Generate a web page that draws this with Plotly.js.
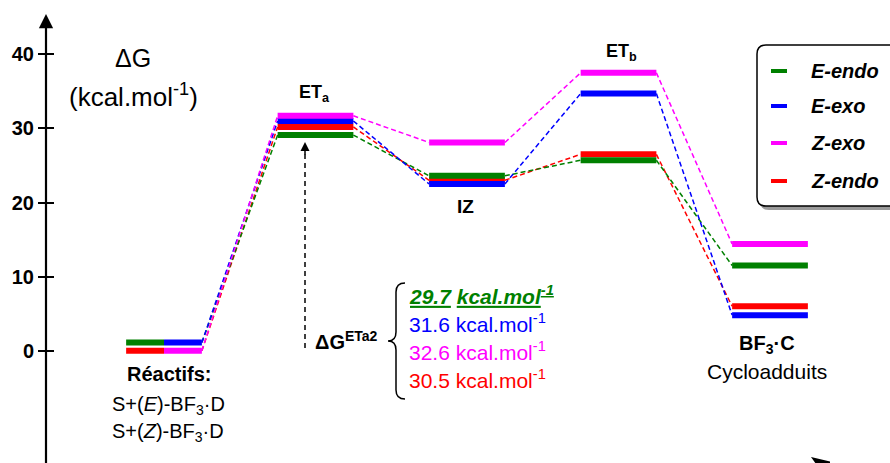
<!DOCTYPE html>
<html>
<head>
<meta charset="utf-8">
<script src="https://cdn.plot.ly/plotly-3.0.1.min.js"></script>
<style>html,body{margin:0;padding:0;background:#fff;}#chart{width:890px;height:463px;}</style>
</head>
<body>
<div id="chart"></div>
<script>
// ---------- data ----------
const stages = ['Réactifs', 'ETa', 'IZ', 'ETb', 'BF3·C'];
const seriesNames = ['E-endo', 'E-exo', 'Z-exo', 'Z-endo'];
const E_endo = [1.1, 29.1, 23.6, 25.7, 11.5];
const E_exo  = [1.1, 31.0, 22.5, 34.7, 4.8];
const Z_exo  = [0.0, 31.7, 28.1, 37.5, 14.4];
const Z_endo = [0.0, 30.2, 23.0, 26.5, 6.0];
const barrierValues = ['29.7', '31.6', '32.6', '30.5']; // ΔG ETa2 : E-endo, E-exo, Z-exo, Z-endo
const yTicks = [0, 10, 20, 30, 40];

// ---------- styling ----------
const colors = {'E-endo': '#008000', 'E-exo': '#0000ff', 'Z-exo': '#ff00ff', 'Z-endo': '#ff0000'};
const reactSide = {'E-endo': -1, 'E-exo': 1, 'Z-exo': 1, 'Z-endo': -1};
const values = {'E-endo': E_endo, 'E-exo': E_exo, 'Z-exo': Z_exo, 'Z-endo': Z_endo};
const drawOrder = ['Z-endo', 'E-endo', 'E-exo', 'Z-exo'];
const FONT = 'Liberation Sans, Arial, sans-serif';
const HW = 0.25;

// pixel helpers for decorations
const PX0 = 164, PXS = 151.5, PY0 = 350.7, PYS = 7.41;
const dx = p => (p - PX0) / PXS;
const dy = p => (PY0 - p) / PYS;

const traces = [];
drawOrder.forEach(name => {
  const v = values[name];
  const cx = [], cy = [];
  for (let i = 0; i < v.length - 1; i++) {
    cx.push(i + HW, i + 1 - HW, null);
    cy.push(v[i], v[i + 1], null);
  }
  traces.push({x: cx, y: cy, mode: 'lines', showlegend: false, hoverinfo: 'skip',
    line: {color: colors[name], width: 1.5, dash: '5px,3px'}});
});
drawOrder.forEach(name => {
  const v = values[name];
  const bx = [], by = [];
  v.forEach((val, i) => {
    if (i === 0) {
      const s = reactSide[name];
      bx.push(s < 0 ? i - HW : i, s < 0 ? i : i + HW, null);
    } else {
      bx.push(i - HW, i + HW, null);
    }
    by.push(val, val, null);
  });
  traces.push({x: bx, y: by, mode: 'lines', name: name, showlegend: false,
    line: {color: colors[name], width: 6}});
});
traces.push({x: [0], y: [0], yaxis: 'y2', mode: 'markers', marker: {opacity: 0}, showlegend: false, hoverinfo: 'skip'});

const yr = [dy(463), dy(0)];
const xr = [dx(0), dx(890)];

const shapes = [];
const annotations = [];

// y axis line with arrow
annotations.push({x: dx(46), y: dy(14), ax: dx(46), ay: dy(470), xref: 'x', yref: 'y', axref: 'x', ayref: 'y',
  text: '', showarrow: true, arrowhead: 2, arrowsize: 1.3, arrowwidth: 2.2, arrowcolor: '#000', standoff: 0, startstandoff: 0});

// dashed arrow ΔG
shapes.push({type: 'line', xref: 'x', yref: 'y', x0: dx(305), x1: dx(305), y0: dy(348), y1: dy(152),
  line: {color: '#000', width: 1.5, dash: '5px,4px'}});
annotations.push({x: dx(305), y: dy(142), ax: dx(305), ay: dy(156), xref: 'x', yref: 'y', axref: 'x', ayref: 'y',
  text: '', showarrow: true, arrowhead: 2, arrowsize: 1.2, arrowwidth: 1.5, arrowcolor: '#000', standoff: 0});

// brace
const P = (x, y) => dx(x) + ',' + dy(y);
shapes.push({type: 'path', xref: 'x', yref: 'y', line: {color: '#000', width: 1.5},
  path: 'M' + P(405, 283) + ' Q' + P(396, 283) + ' ' + P(396, 292) + ' L' + P(396, 332) +
        ' Q' + P(396, 341) + ' ' + P(388, 341) + ' Q' + P(396, 341) + ' ' + P(396, 350) +
        ' L' + P(396, 390) + ' Q' + P(396, 399) + ' ' + P(405, 399)});

// legend box (shadow + rounded rect)
function rrect(x0, y0, x1, y1, r) {
  return 'M' + P(x0 + r, y0) + ' L' + P(x1, y0) + ' L' + P(x1, y1) + ' L' + P(x0 + r, y1) +
    ' Q' + P(x0, y1) + ' ' + P(x0, y1 - r) + ' L' + P(x0, y0 + r) + ' Q' + P(x0, y0) + ' ' + P(x0 + r, y0) + ' Z';
}
shapes.push({type: 'path', xref: 'x', yref: 'y', path: rrect(760, 49, 900, 210, 9), fillcolor: '#9a9a9a', line: {width: 0}});
shapes.push({type: 'path', xref: 'x', yref: 'y', path: rrect(757, 45, 900, 206, 9), fillcolor: '#ffffff', line: {color: '#000', width: 1.5}});
const legY = [71, 106, 143, 181];
seriesNames.forEach((name, k) => {
  shapes.push({type: 'line', xref: 'x', yref: 'y', x0: dx(771), x1: dx(787), y0: dy(legY[k]), y1: dy(legY[k]),
    line: {color: colors[name], width: 4}});
  const parts = name.split('-');
  annotations.push({x: dx(809), y: dy(legY[k]), xref: 'x', yref: 'y', xanchor: 'left', yanchor: 'middle', showarrow: false,
    text: '<b><i>' + parts[0] + '-' + parts[1] + '</i></b>', font: {family: FONT, size: 20, color: '#000'}});
});

// bottom arrow tip
shapes.push({type: 'path', xref: 'x', yref: 'y', fillcolor: '#000', line: {width: 0},
  path: 'M' + P(811, 457) + ' L' + P(830, 461.5) + ' L' + P(830, 464) + ' L' + P(816, 464) + ' Z'});

function txt(px, py, text, size, opts) {
  annotations.push(Object.assign({x: dx(px), y: dy(py), xref: 'x', yref: 'y', text: text, showarrow: false,
    xanchor: 'center', yanchor: 'middle', font: {family: FONT, size: size, color: '#000'}}, opts || {}));
}
txt(133, 58, 'ΔG', 25);
txt(133, 95, '(kcal.mol<sup>-1</sup>)', 26);
txt(314, 93, '<b>ET<sub>a</sub></b>', 18);
txt(621, 52, '<b>ET<sub>b</sub></b>', 18);
txt(465, 206, '<b>IZ</b>', 19);
txt(169, 374, '<b>' + stages[0] + ':</b>', 20);
txt(168, 405, 'S+(<i>E</i>)-BF<sub>3</sub>·D', 20);
txt(168, 432, 'S+(<i>Z</i>)-BF<sub>3</sub>·D', 20);
txt(767, 344, '<b>BF<sub>3</sub>·C</b>', 20);
txt(767, 371, 'Cycloadduits', 21);
txt(313, 340, '<b>ΔG<sup>ETa2</sup></b>', 20, {xanchor: 'left'});

const valY = [295, 323, 351, 379];
seriesNames.forEach((name, k) => {
  let t;
  if (k === 0) {
    t = '<b><i><span style="text-decoration:underline">' + barrierValues[k] + '</span> <span style="text-decoration:underline">kcal.mol<sup>-1</sup></span></i></b>';
  } else {
    t = barrierValues[k] + ' kcal.mol<sup>-1</sup>';
  }
  txt(407, valY[k], t, 21, {xanchor: 'left', font: {family: FONT, size: 21, color: colors[name]}});
});

const layout = {
  width: 890, height: 463,
  margin: {l: 0, r: 0, t: 0, b: 0},
  paper_bgcolor: '#fff', plot_bgcolor: '#fff',
  showlegend: false,
  xaxis: {range: xr, visible: false, fixedrange: true},
  yaxis: {range: yr, anchor: 'free', position: 46 / 890, showline: false, showgrid: false, zeroline: false,
    tickmode: 'array', tickvals: yTicks, ticktext: yTicks.map(String), ticks: 'outside', ticklen: 8, tickwidth: 2, tickcolor: '#000',
    tickfont: {family: FONT, size: 20, color: '#000', weight: 'bold'}, fixedrange: true},
  yaxis2: {range: yr, overlaying: 'y', anchor: 'free', position: 46 / 890, side: 'left', showline: false, showgrid: false, zeroline: false,
    tickmode: 'array', tickvals: yTicks, ticks: 'inside', ticklen: 7, tickwidth: 2, tickcolor: '#000', showticklabels: false, fixedrange: true},
  shapes: shapes,
  annotations: annotations
};

Plotly.newPlot('chart', traces, layout, {displayModeBar: false, staticPlot: true});
</script>
</body>
</html>
